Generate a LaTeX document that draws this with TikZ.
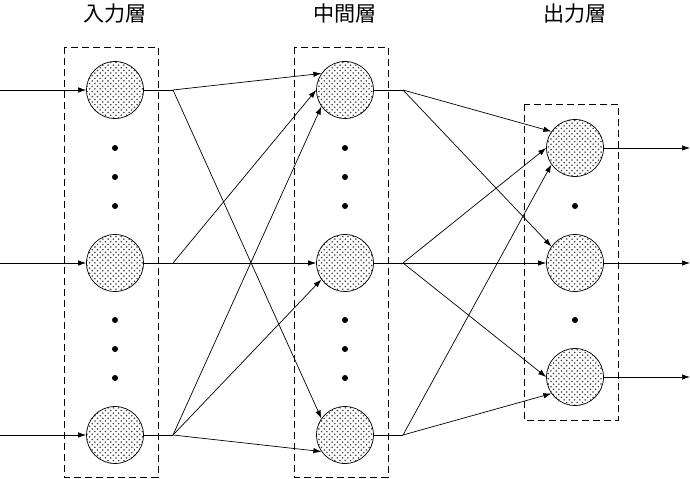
\documentclass[tikz,border=0pt]{standalone}
\usepackage{fontspec}
\newfontfamily\jpfont{Noto Sans CJK JP}
\usetikzlibrary{arrows.meta,patterns}

\begin{document}
\begin{tikzpicture}[x=0.2mm, y=-0.2mm,
  unit/.style={draw, circle, minimum size=11.4mm, inner sep=0pt,
               pattern=crosshatch dots, pattern color=black!75},
  layer/.style={draw, dash pattern=on 1.4mm off 0.8mm},
  dotmark/.style={fill, circle, minimum size=1.2mm, inner sep=0pt},
  title/.style={font=\jpfont\fontsize{12}{14}\selectfont},
  link/.style={-{Latex[length=1.6mm,width=1.1mm]}},
]
\useasboundingbox (0,0) rectangle (690,479);

% 層の枠
\draw[layer] (64,47) rectangle (158,477);
\draw[layer] (294,47) rectangle (388,477);
\draw[layer] (524,104) rectangle (618,420);

% 見出し
\node[title] (t1) at (115,14) {入力層};
\node[title] (t2) at (345,14) {中間層};
\node[title] (t3) at (575,14) {出力層};

% 入力層
\node[unit] (i1) at (115,90) {};
\node[unit] (i2) at (115,263) {};
\node[unit] (i3) at (115,435) {};
\foreach \y [count=\k] in {148,177,206,320,349,378}
  \node[dotmark] (di\k) at (115,\y) {};

% 中間層
\node[unit] (h1) at (345,90) {};
\node[unit] (h2) at (345,263) {};
\node[unit] (h3) at (345,435) {};
\foreach \y [count=\k] in {148,177,206,320,349,378}
  \node[dotmark] (dh\k) at (345,\y) {};

% 出力層
\node[unit] (o1) at (575,148) {};
\node[unit] (o2) at (575,263) {};
\node[unit] (o3) at (575,377) {};
\node[dotmark] (do1) at (575,206) {};
\node[dotmark] (do2) at (575,320) {};

% 分岐点と端点
\coordinate (bi1) at (173,90);
\coordinate (bi2) at (173,263);
\coordinate (bi3) at (173,435);
\coordinate (bh1) at (403,90);
\coordinate (bh2) at (403,263);
\coordinate (bh3) at (403,435);
\coordinate (in1) at (0,90);
\coordinate (in2) at (0,263);
\coordinate (in3) at (0,435);
\coordinate (out1) at (690,148);
\coordinate (out2) at (690,263);
\coordinate (out3) at (690,377);

% 入出力
\foreach \k in {1,2,3} {
  \draw[link] (in\k) -- (i\k);
  \draw (i\k) -- (bi\k);
  \draw (h\k) -- (bh\k);
  \draw[link] (o\k) -- (out\k);
}

% 結合 (入る位置は送り元の順に上・中・下)
\foreach \s/\t [evaluate=\s as \a using int(110+35*\s)] in
    {1/1,1/3,2/1,2/2,3/1,3/2,3/3}
  \draw[link] (bi\s) -- (h\t.\a);
\foreach \s/\t [evaluate=\s as \a using int(110+35*\s)] in
    {1/1,1/2,2/1,2/2,2/3,3/1,3/3}
  \draw[link] (bh\s) -- (o\t.\a);
\end{tikzpicture}
\end{document}
